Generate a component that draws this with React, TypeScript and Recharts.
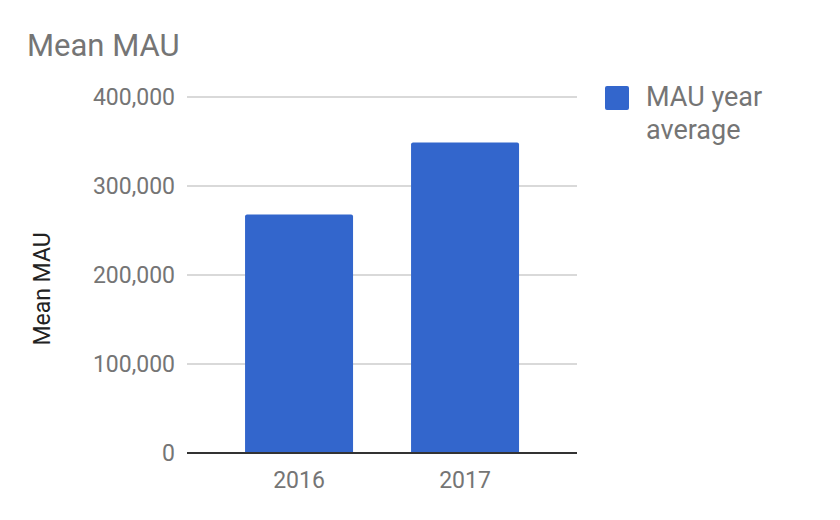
import React from 'react';
import { BarChart, Bar, XAxis, YAxis, CartesianGrid, Legend } from 'recharts';

const years = ['2016', '2017'];
const mauYearAverage = [268000, 349000];
const yTicks = [0, 100000, 200000, 300000, 400000];
const seriesName = 'MAU year average';
const chartTitle = 'Mean MAU';
const yAxisTitle = 'Mean MAU';

const data = years.map((y, i) => ({ year: y, mau: mauYearAverage[i] }));

const FONT = 'Roboto, "Noto Sans", Arial, sans-serif';
const BLUE = '#3366cc';

const fmt = (v: number) => v.toLocaleString('en-US');

const LegendContent = () => (
  <div style={{ display: 'flex', alignItems: 'flex-start', fontFamily: FONT }}>
    <div style={{ width: 24, height: 24, background: BLUE, borderRadius: 2, marginTop: 5, flex: 'none' }} />
    <div style={{ marginLeft: 17, width: 140, fontSize: 27, lineHeight: '33px', color: '#757575' }}>{seriesName}</div>
  </div>
);

const YLabel = (props: any) => {
  const vb = props.viewBox || { x: 0, y: 0, height: 0 };
  const cx = 42;
  const cy = vb.y + vb.height / 2 + 14;
  return (
    <text
      x={cx}
      y={cy}
      transform={`rotate(-90 ${cx} ${cy})`}
      textAnchor="middle"
      dominantBaseline="central"
      fontFamily={FONT}
      fontSize={23}
      fill="#222222"
    >
      {yAxisTitle}
    </text>
  );
};

export default function App() {
  return (
    <div style={{ position: 'absolute', left: 0, top: 0, width: 840, height: 520, background: '#fff' }}>
      <div
        style={{
          position: 'absolute',
          left: 27,
          top: 30,
          fontFamily: FONT,
          fontSize: 31,
          lineHeight: '31px',
          color: '#757575',
          whiteSpace: 'nowrap',
        }}
      >
        {chartTitle}
      </div>
      <BarChart
        width={840}
        height={520}
        data={data}
        margin={{ top: 97, right: 263, bottom: 37, left: 0 }}
        barCategoryGap="17.5%"
      >
        <CartesianGrid vertical={false} stroke="#cccccc" strokeWidth={1.5} />
        <XAxis
          dataKey="year"
          height={30}
          padding={{ left: 29, right: 29 }}
          tickLine={false}
          tickSize={0}
          tickMargin={19}
          axisLine={{ stroke: '#333333', strokeWidth: 2 }}
          tick={{ fontFamily: FONT, fontSize: 23, fill: '#757575' }}
        />
        <YAxis
          width={187}
          domain={[0, 400000]}
          ticks={yTicks}
          tickFormatter={fmt}
          axisLine={false}
          tickLine={false}
          tickSize={0}
          tickMargin={12}
          tick={{ fontFamily: FONT, fontSize: 23, fill: '#757575' }}
          label={<YLabel />}
        />
        <Legend
          layout="vertical"
          align="center"
          verticalAlign="middle"
          content={<LegendContent />}
          wrapperStyle={{ left: 605, top: 81, width: 220 }}
        />
        <Bar dataKey="mau" name={seriesName} fill={BLUE} radius={[2, 2, 0, 0]} isAnimationActive={false} />
      </BarChart>
    </div>
  );
}
